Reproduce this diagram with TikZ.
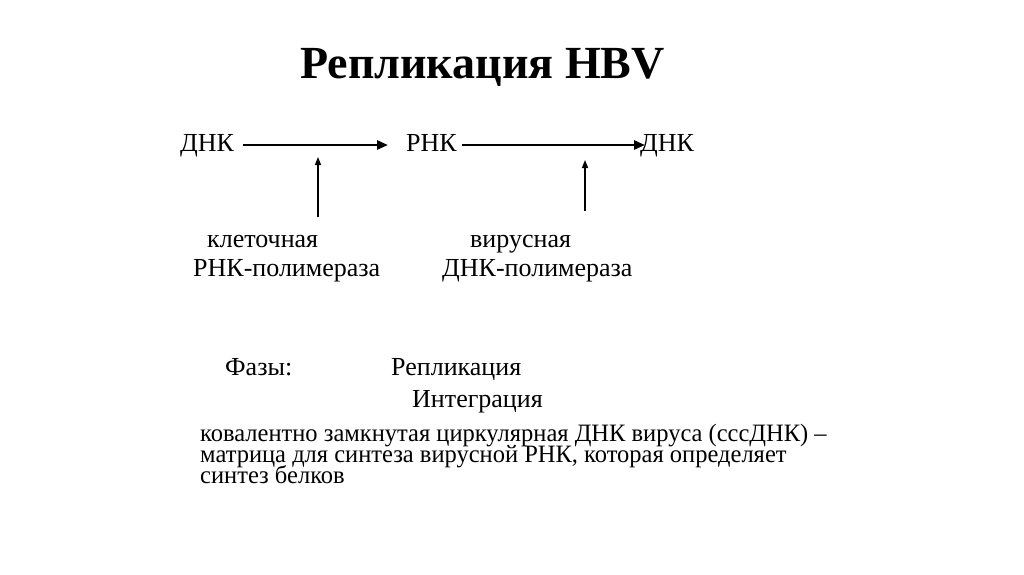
\documentclass[tikz,border=0pt]{standalone}
\usepackage{fontspec}
\setmainfont{Liberation Serif}
\newfontfamily\condfont[FakeStretch=0.98]{Liberation Serif}
\usetikzlibrary{arrows.meta}
\tikzset{
  txt/.style={anchor=base west, inner sep=0pt, font=\fontsize{26}{26}\selectfont},
  ttl/.style={anchor=base west, inner sep=0pt, font=\fontsize{46}{46}\selectfont\bfseries},
  para/.style={anchor=base west, inner sep=0pt, font=\condfont\fontsize{25}{25}\selectfont},
  thick arrow/.style={line width=2.6pt, -{Triangle[length=11pt,width=9pt]}},
  thin arrow/.style={line width=1.4pt, -{Triangle[length=8pt,width=6pt]}},
}
\begin{document}
\begin{tikzpicture}[x=1pt,y=-1pt]
\useasboundingbox[fill=white] (0,0) rectangle (1024,574);
\node[ttl] (title) at (300,78) {Репликация HBV};
\node[txt] (d1) at (180,151) {ДНК};
\node[txt] (r) at (406,151) {РНК};
\node[txt] (d2) at (640,151) {ДНК};
\coordinate (s1) at (243,145);
\coordinate (t1) at (388,145);
\coordinate (s2) at (462,145);
\coordinate (t2) at (645,145);
\draw[thick arrow] (s1) -- (t1);
\draw[thick arrow] (s2) -- (t2);
\coordinate (v1s) at (318,217);
\coordinate (v1t) at (318,157);
\coordinate (v2s) at (585,211);
\coordinate (v2t) at (585,160);
\draw[thin arrow] (v1s) -- (v1t);
\draw[thin arrow] (v2s) -- (v2t);
\node[txt] (k1) at (207,247) {клеточная};
\node[txt] (k2) at (193,276) {РНК-полимераза};
\node[txt] (v1) at (470,247) {вирусная};
\node[txt] (v2) at (442,276) {ДНК-полимераза};
\node[txt] (ph) at (225,375) {Фазы:};
\node[txt] (rep) at (391,375) {Репликация};
\node[txt] (int) at (412,407) {Интеграция};
\node[para] (p1) at (200,441) {ковалентно замкнутая циркулярная ДНК вируса (сссДНК) –};
\node[para] (p2) at (200,462) {матрица для синтеза вирусной РНК, которая определяет};
\node[para] (p3) at (200,483) {синтез белков};
\end{tikzpicture}
\end{document}
